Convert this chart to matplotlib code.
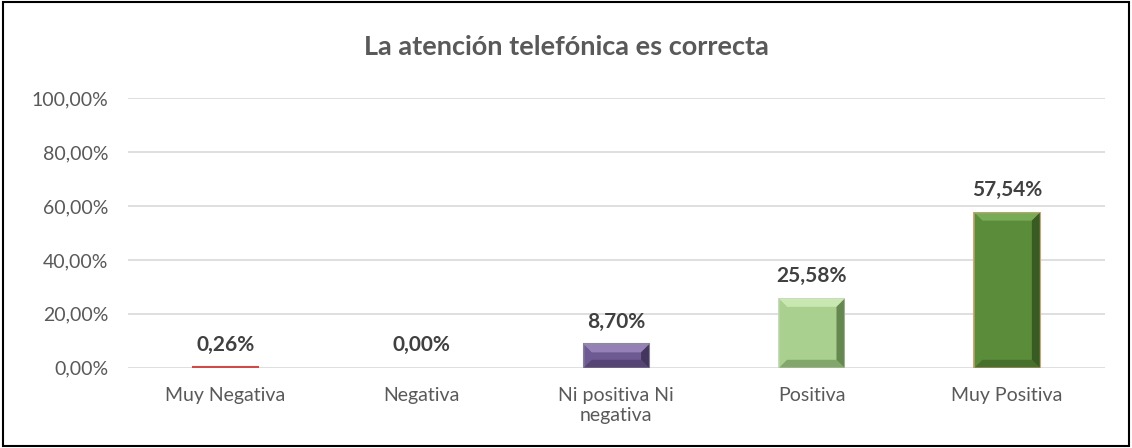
import matplotlib
matplotlib.use("Agg")
import matplotlib.pyplot as plt
from matplotlib.patches import Polygon, Rectangle
import numpy as np

categorias = ["Muy Negativa", "Negativa", "Ni positiva Ni\nnegativa", "Positiva", "Muy Positiva"]
valores = [0.0026, 0.0, 0.0870, 0.2558, 0.5754]
etiquetas = ["0,26%", "0,00%", "8,70%", "25,58%", "57,54%"]
ticks_y = [0.0, 0.2, 0.4, 0.6, 0.8, 1.0]
ticks_y_txt = ["0,00%", "20,00%", "40,00%", "60,00%", "80,00%", "100,00%"]

# base, luz, sombra, borde
colores = [
    ("#D9413F", "#E07A77", "#8C3331", "#D04A48"),
    ("#C0504D", "#E07A77", "#8C3331", "#BFBFBF"),
    ("#6E5A92", "#9A86B9", "#3F3158", "#8A8A9A"),
    ("#A9D08E", "#CDEBB5", "#5E7F4A", "#C9D9BD"),
    ("#5B8C3A", "#7DAE5A", "#34561F", "#C9A77C"),
]

plt.rcParams['font.family'] = ['Lato', 'DejaVu Sans']

fig = plt.figure(figsize=(11.32, 4.48), dpi=100)
ax = fig.add_axes([0.113, 0.179, 0.863, 0.602])

x = np.arange(len(categorias))
ancho = 0.335
barras = ax.bar(x, valores, width=ancho, zorder=2, linewidth=1.5)

ax.set_xlim(-0.5, len(categorias) - 0.5)
ax.set_ylim(0, 1.0)
ax.set_yticks(ticks_y)
ax.set_yticklabels(ticks_y_txt)
ax.set_xticks(x)
ax.set_xticklabels(categorias, linespacing=1.2)
ax.tick_params(length=0, labelsize=14, labelcolor="#595959")
ax.tick_params(axis="y", pad=14)
ax.tick_params(axis="x", pad=14)
for s in ax.spines.values():
    s.set_visible(False)
ax.grid(axis="y", color="#D9D9D9", linewidth=1.2, zorder=0)

fig.canvas.draw()
to_data = ax.transData.inverted()
bisel = 8  # px

for b, v, (base, luz, sombra, borde) in zip(barras, valores, colores):
    b.set_facecolor(base)
    b.set_edgecolor(borde)
    if v <= 0:
        b.set_visible(False)
        continue
    (x0, y0), (x1, y1) = ax.transData.transform([(b.get_x(), 0), (b.get_x() + b.get_width(), v)])
    if y1 - y0 < 4:
        continue
    d = min(bisel, (y1 - y0) / 2, (x1 - x0) / 2)
    pts = {
        "o": [(x0, y1), (x1, y1), (x1 - d, y1 - d), (x0 + d, y1 - d)],
        "l": [(x0, y0), (x0, y1), (x0 + d, y1 - d), (x0 + d, y0 + d)],
        "r": [(x1, y0), (x1, y1), (x1 - d, y1 - d), (x1 - d, y0 + d)],
        "u": [(x0, y0), (x1, y0), (x1 - d, y0 + d), (x0 + d, y0 + d)],
    }
    tonos = {"o": luz, "l": base, "r": sombra, "u": sombra}
    alfas = {"o": 0.9, "l": 0.6, "r": 0.9, "u": 0.5}
    for k, p in pts.items():
        ax.add_patch(Polygon(to_data.transform(p), closed=True, facecolor=tonos[k],
                             alpha=alfas[k], edgecolor="none", zorder=3))

for xi, v, t in zip(x, valores, etiquetas):
    ax.annotate(t, (xi, v), xytext=(0, 9), textcoords="offset points", ha="center",
                va="bottom", fontsize=15, fontweight="bold", color="#404040", zorder=4)

fig.text(0.5, 0.895, "La atención telefónica es correcta", ha="center", va="center",
         fontsize=19.5, fontweight="bold", color="#595959")

fig.patches.append(Rectangle((0.003, 0.005), 0.994, 0.99, transform=fig.transFigure,
                             fill=False, edgecolor="black", linewidth=1.5))

fig.savefig("out.png", dpi=100)
